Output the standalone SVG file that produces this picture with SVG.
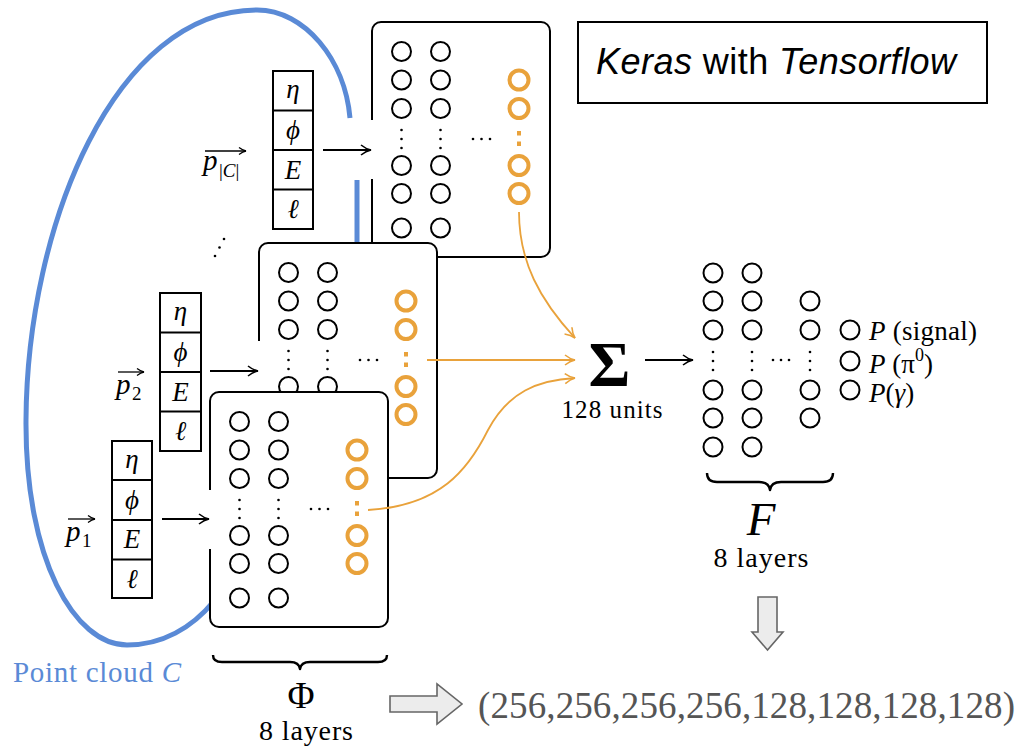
<svg xmlns="http://www.w3.org/2000/svg" xmlns:xlink="http://www.w3.org/1999/xlink" width="1020" height="748" viewBox="0 0 1020 748">
<style>
.box{fill:#fff;stroke:#000;stroke-width:2}
.nb{fill:none;stroke:#000;stroke-width:2}
.no{fill:none;stroke:#e9a23b;stroke-width:4}
.dot{fill:#000}
.od{fill:#e9a23b}
.cell{fill:#fff;stroke:#000;stroke-width:2}
.m{font-family:"Liberation Serif","DejaVu Serif",serif;fill:#000}
.it{font-style:italic}
.g{font-size:27px}
.arr{fill:none;stroke:#000;stroke-width:1.8}
.oarr{fill:none;stroke:#e9a23b;stroke-width:1.8}
.blk{fill:#ececec;stroke:#666;stroke-width:1.6}
.brace{fill:none;stroke:#000;stroke-width:2.4;stroke-linejoin:round}
</style>
<defs>
<marker id="ah" markerUnits="userSpaceOnUse" markerWidth="14" markerHeight="14" refX="11" refY="6" orient="auto">
<path d="M1,1 Q6,5 11,6 Q6,7 1,11" fill="none" stroke="#000" stroke-width="1.6"/>
</marker>
<marker id="oh" markerUnits="userSpaceOnUse" markerWidth="14" markerHeight="14" refX="11" refY="6" orient="auto">
<path d="M1,1 Q6,5 11,6 Q6,7 1,11" fill="none" stroke="#e9a23b" stroke-width="1.6"/>
</marker>
<marker id="sh" markerUnits="userSpaceOnUse" markerWidth="10" markerHeight="10" refX="8" refY="4" orient="auto">
<path d="M1,0.5 Q5,3.5 8,4 Q5,4.5 1,7.5" fill="none" stroke="#000" stroke-width="1.3"/>
</marker>
<g id="netBody">
<path class="box" d="M0,157 V226 A9,9 0 0 0 9,235 H169 A9,9 0 0 0 178,226 V9 A9,9 0 0 0 169,0 H9 A9,9 0 0 0 0,9 V98"/>
<circle class="nb" cx="29.5" cy="29.5" r="9.5"/><circle class="nb" cx="68.5" cy="29.5" r="9.5"/>
<circle class="nb" cx="29.5" cy="58" r="9.5"/><circle class="nb" cx="68.5" cy="58" r="9.5"/>
<circle class="nb" cx="29.5" cy="86.5" r="9.5"/><circle class="nb" cx="68.5" cy="86.5" r="9.5"/>
<circle class="nb" cx="29.5" cy="143.5" r="9.5"/><circle class="nb" cx="68.5" cy="143.5" r="9.5"/>
<circle class="nb" cx="29.5" cy="171.5" r="9.5"/><circle class="nb" cx="68.5" cy="171.5" r="9.5"/>
<circle class="nb" cx="29.5" cy="206" r="9.5"/><circle class="nb" cx="68.5" cy="206" r="9.5"/>
<circle class="dot" cx="29.5" cy="108" r="1.3"/><circle class="dot" cx="29.5" cy="117" r="1.3"/><circle class="dot" cx="29.5" cy="126" r="1.3"/>
<circle class="dot" cx="68.5" cy="108" r="1.3"/><circle class="dot" cx="68.5" cy="117" r="1.3"/><circle class="dot" cx="68.5" cy="126" r="1.3"/>
<circle class="dot" cx="101" cy="117" r="1.3"/><circle class="dot" cx="109.5" cy="117" r="1.3"/><circle class="dot" cx="118" cy="117" r="1.3"/>
<circle class="no" cx="147" cy="58" r="9.5"/><circle class="no" cx="147" cy="86.5" r="9.5"/>
<circle class="no" cx="147" cy="143.5" r="9.5"/><circle class="no" cx="147" cy="171.5" r="9.5"/>
<rect class="od" x="145" y="109" width="4" height="4.5"/><rect class="od" x="145" y="119.5" width="4" height="4.5"/>
</g>
</defs>
<rect width="1020" height="748" fill="#fff"/>

<g id="point-cloud-loop">
<path d="M350,118 C345,60 305,10 257,10 C115,10 27,225 26,420 C25,560 75,645 127,645 C162,645 192,628 214,601" fill="none" stroke="#5a8ad6" stroke-width="5"/>
<path d="M357,180 V250" fill="none" stroke="#5a8ad6" stroke-width="5"/>
</g>

<g id="phi-net-3"><use xlink:href="#netBody" transform="translate(372,22)"/></g>
<g id="phi-net-2"><use xlink:href="#netBody" transform="translate(259,243)"/></g>
<g id="phi-net-1"><use xlink:href="#netBody" transform="translate(210,392)"/></g>

<g id="input-pC">
<rect class="cell" x="273" y="71" width="40" height="158"/>
<line x1="273" y1="110.5" x2="313" y2="110.5" stroke="#000" stroke-width="2"/>
<line x1="273" y1="150" x2="313" y2="150" stroke="#000" stroke-width="2"/>
<line x1="273" y1="189.5" x2="313" y2="189.5" stroke="#000" stroke-width="2"/>
<text class="m it g" x="293" y="98" text-anchor="middle">η</text>
<text class="m it g" x="293" y="139" text-anchor="middle">ϕ</text>
<text class="m it g" x="293" y="179" text-anchor="middle">E</text>
<text class="m it g" x="293" y="218" text-anchor="middle">ℓ</text>
<text class="m it" x="203" y="170" font-size="29">p</text>
<text class="m" x="219" y="177" font-size="19">|<tspan font-style="italic">C</tspan>|</text>
<line x1="205" y1="151" x2="246" y2="151" stroke="#000" stroke-width="1.3" marker-end="url(#sh)"/>
</g>

<g id="input-p2">
<rect class="cell" x="160" y="293" width="41" height="158"/>
<line x1="160" y1="332.5" x2="201" y2="332.5" stroke="#000" stroke-width="2"/>
<line x1="160" y1="372" x2="201" y2="372" stroke="#000" stroke-width="2"/>
<line x1="160" y1="411.5" x2="201" y2="411.5" stroke="#000" stroke-width="2"/>
<text class="m it g" x="180.5" y="320" text-anchor="middle">η</text>
<text class="m it g" x="180.5" y="361" text-anchor="middle">ϕ</text>
<text class="m it g" x="180.5" y="401" text-anchor="middle">E</text>
<text class="m it g" x="180.5" y="440" text-anchor="middle">ℓ</text>
<text class="m it" x="116" y="394" font-size="29">p</text>
<text class="m" x="132" y="400" font-size="19">2</text>
<line x1="118" y1="372" x2="144" y2="372" stroke="#000" stroke-width="1.3" marker-end="url(#sh)"/>
</g>

<g id="input-p1">
<rect class="cell" x="112" y="441" width="40" height="157"/>
<line x1="112" y1="480" x2="152" y2="480" stroke="#000" stroke-width="2"/>
<line x1="112" y1="520" x2="152" y2="520" stroke="#000" stroke-width="2"/>
<line x1="112" y1="559.5" x2="152" y2="559.5" stroke="#000" stroke-width="2"/>
<text class="m it g" x="132" y="468" text-anchor="middle">η</text>
<text class="m it g" x="132" y="509" text-anchor="middle">ϕ</text>
<text class="m it g" x="132" y="548" text-anchor="middle">E</text>
<text class="m it g" x="132" y="588" text-anchor="middle">ℓ</text>
<text class="m it" x="66" y="541" font-size="29">p</text>
<text class="m" x="82" y="547" font-size="19">1</text>
<line x1="68" y1="519" x2="95" y2="519" stroke="#000" stroke-width="1.3" marker-end="url(#sh)"/>
</g>

<g id="ellipsis-inputs">
<circle class="dot" cx="215" cy="256" r="1.3"/><circle class="dot" cx="219.5" cy="247.5" r="1.3"/><circle class="dot" cx="224" cy="239" r="1.3"/>
</g>

<g id="sum-node">
<text class="m" x="609.5" y="386" font-size="64" font-weight="bold" text-anchor="middle">Σ</text>
<text class="m" x="612" y="418" font-size="25" text-anchor="middle" textLength="101">128 units</text>
</g>

<g id="f-net">
<circle class="nb" cx="713" cy="273" r="9.5"/><circle class="nb" cx="752" cy="273" r="9.5"/>
<circle class="nb" cx="713" cy="301" r="9.5"/><circle class="nb" cx="752" cy="301" r="9.5"/><circle class="nb" cx="810" cy="301" r="9.5"/>
<circle class="nb" cx="713" cy="330" r="9.5"/><circle class="nb" cx="752" cy="330" r="9.5"/><circle class="nb" cx="810" cy="330" r="9.5"/>
<circle class="nb" cx="713" cy="390" r="9.5"/><circle class="nb" cx="752" cy="390" r="9.5"/><circle class="nb" cx="810" cy="390" r="9.5"/>
<circle class="nb" cx="713" cy="418" r="9.5"/><circle class="nb" cx="752" cy="418" r="9.5"/><circle class="nb" cx="810" cy="418" r="9.5"/>
<circle class="nb" cx="713" cy="447" r="9.5"/><circle class="nb" cx="752" cy="447" r="9.5"/>
<circle class="dot" cx="713" cy="352" r="1.3"/><circle class="dot" cx="713" cy="361" r="1.3"/><circle class="dot" cx="713" cy="370" r="1.3"/>
<circle class="dot" cx="752" cy="352" r="1.3"/><circle class="dot" cx="752" cy="361" r="1.3"/><circle class="dot" cx="752" cy="370" r="1.3"/>
<circle class="dot" cx="810" cy="352" r="1.3"/><circle class="dot" cx="810" cy="361" r="1.3"/><circle class="dot" cx="810" cy="370" r="1.3"/>
<circle class="dot" cx="773" cy="360" r="1.3"/><circle class="dot" cx="781" cy="360" r="1.3"/><circle class="dot" cx="789" cy="360" r="1.3"/>
<path class="brace" d="M707,473 Q707,482 717,482 H759 Q769,482 770,490 Q771,482 781,482 H823 Q833,482 833,473"/>
<text class="m it" x="761" y="535" font-size="47" text-anchor="middle">F</text>
<text class="m" x="761" y="567" font-size="28" text-anchor="middle" textLength="95">8 layers</text>
</g>

<g id="outputs">
<circle class="nb" cx="850" cy="330" r="9.5"/>
<circle class="nb" cx="850" cy="361" r="9.5"/>
<circle class="nb" cx="850" cy="390" r="9.5"/>
<text class="m" x="869" y="340" font-size="27" textLength="108"><tspan font-style="italic">P</tspan> (signal)</text>
<text class="m" x="869" y="373" font-size="27"><tspan font-style="italic">P</tspan> (π<tspan font-size="18" dy="-12">0</tspan><tspan dy="12">)</tspan></text>
<text class="m" x="869" y="402" font-size="27"><tspan font-style="italic">P</tspan>(<tspan font-style="italic">γ</tspan>)</text>
</g>

<g id="phi-label">
<path class="brace" d="M213,655 Q213,662 222,662 H290 Q299,662 300,669 Q301,662 310,662 H378 Q387,662 387,655"/>
<text class="m" x="301" y="708" font-size="37" text-anchor="middle">Φ</text>
<text class="m" x="306" y="740" font-size="28" text-anchor="middle" textLength="94">8 layers</text>
</g>

<g id="point-cloud-label">
<text class="m" x="13" y="682" font-size="29" style="fill:#5a8ad6" textLength="168">Point cloud <tspan font-style="italic">C</tspan></text>
</g>

<g id="keras-box">
<rect x="578" y="22" width="409" height="81" fill="#fff" stroke="#000" stroke-width="2"/>
<text x="596" y="74" font-family="'Liberation Sans',Arial,sans-serif" font-size="36" fill="#000" textLength="360"><tspan font-style="italic">Keras</tspan> with <tspan font-style="italic">Tensorflow</tspan></text>
</g>

<g id="layer-sizes">
<path class="blk" d="M758,597 H777 V632 H783 L767.5,650 L752,632 H758 Z"/>
<path class="blk" d="M390,696 H437 V684 L462,704 L437,724 V712 H390 Z"/>
<text x="478" y="718" font-family="'Liberation Serif','Times New Roman',serif" font-size="37" fill="#555" textLength="537">(256,256,256,256,128,128,128,128)</text>
</g>

<g id="connectors">
<line class="arr" x1="323" y1="150" x2="371" y2="150" marker-end="url(#ah)"/>
<line class="arr" x1="210" y1="371" x2="258" y2="371" marker-end="url(#ah)"/>
<line class="arr" x1="162" y1="519" x2="209" y2="519" marker-end="url(#ah)"/>
<line class="arr" x1="645" y1="360" x2="693" y2="360" marker-end="url(#ah)"/>
<path class="oarr" d="M519,212 C519,262 540,300 575,338" marker-end="url(#oh)"/>
<line class="oarr" x1="427" y1="360" x2="575" y2="360" marker-end="url(#oh)"/>
<path class="oarr" d="M368,510 C440,506 468,470 488,430 C508,392 538,380 575,378" marker-end="url(#oh)"/>
</g>
</svg>
